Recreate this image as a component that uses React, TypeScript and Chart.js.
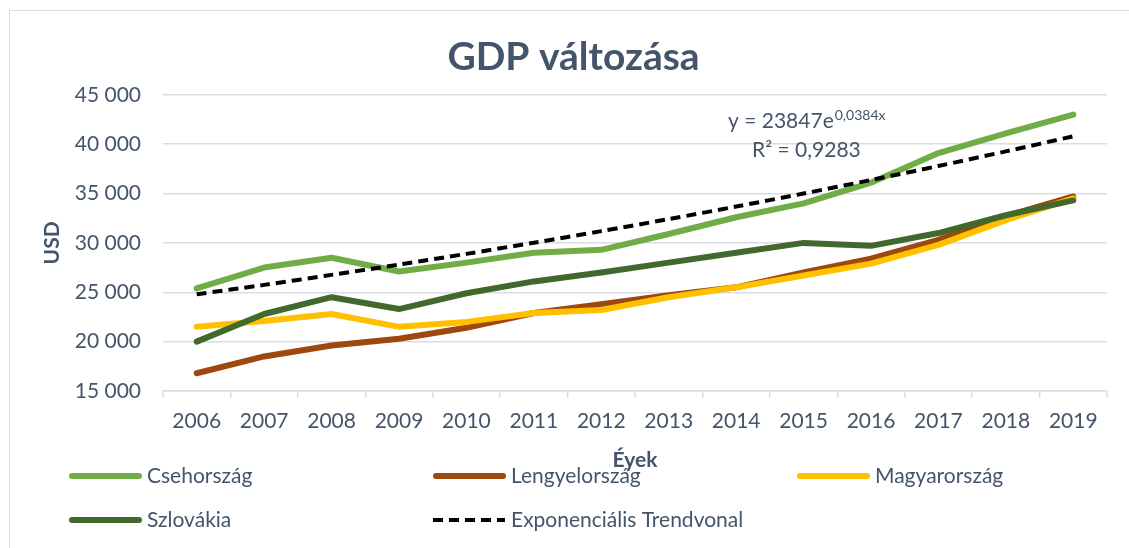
import { useEffect, useRef } from 'react';
import { Chart, registerables } from 'chart.js';

Chart.register(...registerables);

const FONT = 'Lato, "Open Sans", sans-serif';
const TEXT = '#44546A';
const GRID = '#D9DDE3';

const years = ['2006', '2007', '2008', '2009', '2010', '2011', '2012', '2013', '2014', '2015', '2016', '2017', '2018', '2019'];
const csehorszag = [25400, 27500, 28500, 27100, 28000, 29000, 29300, 30900, 32600, 34000, 36100, 39100, 41100, 43000];
const lengyelorszag = [16800, 18500, 19600, 20300, 21400, 22900, 23800, 24700, 25500, 27000, 28400, 30300, 32700, 34700];
const magyarorszag = [21500, 22100, 22800, 21500, 22000, 22900, 23200, 24500, 25500, 26700, 27900, 29800, 32300, 34500];
const szlovakia = [20000, 22800, 24500, 23300, 24900, 26100, 27000, 28000, 29000, 30000, 29700, 31000, 32800, 34300];
const trendvonal = [24800, 25750, 26760, 27800, 28890, 30020, 31190, 32410, 33680, 35000, 36370, 37790, 39270, 40800];

const seriesLabels = ['Csehország', 'Lengyelország', 'Magyarország', 'Szlovákia', 'Exponenciális Trendvonal'];
const seriesColors = ['#70AD47', '#9E480E', '#FFC000', '#43682B', '#000000'];
const equationText = 'y = 23847e';
const equationExponent = '0,0384x';
const rSquaredText = 'R² = 0,9283';
const chartTitle = 'GDP változása';
const xTitle = 'Éyek';
const yTitle = 'USD';

const fmt = (v: number) => String(v).replace(/\B(?=(\d{3})+(?!\d))/g, ' ');

const decor = {
  id: 'decor',
  beforeDraw(chart: any) {
    const ctx = chart.ctx;
    ctx.save();
    ctx.fillStyle = '#ffffff';
    ctx.fillRect(0, 0, chart.width, chart.height);
    ctx.strokeStyle = '#D9DDE3';
    ctx.lineWidth = 1;
    ctx.strokeRect(9.5, 10.5, chart.width + 40, chart.height + 40);
    ctx.restore();
  },
  afterDraw(chart: any) {
    const ctx = chart.ctx;
    ctx.save();
    // trendline equation
    ctx.fillStyle = TEXT;
    ctx.textBaseline = 'middle';
    ctx.textAlign = 'left';
    ctx.font = `21px ${FONT}`;
    const ex = 728;
    ctx.fillText(equationText, ex, 121);
    const w = ctx.measureText(equationText).width;
    ctx.font = `14px ${FONT}`;
    ctx.fillText(equationExponent, ex + w + 1, 115);
    ctx.font = `21px ${FONT}`;
    ctx.fillText(rSquaredText, 752, 150);

    // legend
    const cols = [69, 433, 797];
    const rows = [476, 520];
    const ds = chart.data.datasets;
    ds.forEach((d: any, k: number) => {
      const x = cols[k % 3];
      const y = rows[Math.floor(k / 3)];
      ctx.beginPath();
      ctx.strokeStyle = d.borderColor;
      if (d.borderDash && d.borderDash.length) {
        ctx.lineWidth = 4;
        ctx.lineCap = 'butt';
        ctx.setLineDash([10, 6]);
        ctx.moveTo(x, y);
        ctx.lineTo(x + 72, y);
        ctx.stroke();
      } else {
        ctx.lineWidth = 6;
        ctx.lineCap = 'round';
        ctx.setLineDash([]);
        ctx.moveTo(x + 3, y);
        ctx.lineTo(x + 70, y);
        ctx.stroke();
      }
      ctx.setLineDash([]);
      ctx.fillStyle = TEXT;
      ctx.font = `21px ${FONT}`;
      ctx.textBaseline = 'middle';
      ctx.fillText(d.label, x + 78, y);
    });
    ctx.restore();
  },
};

export default function App() {
  const ref = useRef<HTMLCanvasElement>(null);
  useEffect(() => {
    Chart.defaults.font.family = FONT;
    const mk = (i: number, data: number[], order: number) => ({
      label: seriesLabels[i],
      data,
      borderColor: seriesColors[i],
      backgroundColor: seriesColors[i],
      borderWidth: 6,
      borderCapStyle: 'round' as const,
      borderJoinStyle: 'round' as const,
      pointRadius: 0,
      tension: 0,
      fill: false,
      order,
    });
    const chart = new Chart(ref.current!, {
      type: 'line',
      data: {
        labels: years,
        datasets: [
          mk(0, csehorszag, 4),
          mk(1, lengyelorszag, 3),
          mk(2, magyarorszag, 2),
          mk(3, szlovakia, 1),
          {
            label: seriesLabels[4],
            data: trendvonal,
            borderColor: seriesColors[4],
            backgroundColor: seriesColors[4],
            borderWidth: 4,
            borderDash: [10, 6],
            pointRadius: 0,
            tension: 0.3,
            fill: false,
            order: 0,
          },
        ],
      },
      options: {
        responsive: true,
        maintainAspectRatio: false,
        animation: false,
        layout: { padding: { left: 40, right: 22, top: 0, bottom: 75 } },
        plugins: {
          legend: { display: false },
          tooltip: { enabled: false },
          title: {
            display: true,
            text: chartTitle,
            color: TEXT,
            font: { size: 39, weight: 'bold', family: FONT },
            padding: { top: 34, bottom: 14 },
          },
        },
        scales: {
          x: {
            offset: true,
            grid: { offset: true, drawOnChartArea: false, drawTicks: true, tickLength: 7, color: GRID, lineWidth: 1.5 },
            border: { display: true, color: GRID, width: 1.5 },
            ticks: { color: TEXT, font: { size: 21, family: FONT }, padding: 11, maxRotation: 0, autoSkip: false },
            title: { display: true, text: xTitle, color: TEXT, font: { size: 21, weight: 'bold', family: FONT }, padding: { top: 0, bottom: 0 } },
            afterFit: (scale: any) => { scale.height = 82; },
          },
          y: {
            min: 15000,
            max: 45000,
            ticks: { stepSize: 5000, color: TEXT, font: { size: 21, family: FONT }, padding: 22, callback: (v: any) => fmt(Number(v)) },
            grid: { color: GRID, drawTicks: false, lineWidth: 1.5 },
            border: { display: false },
            title: { display: true, text: yTitle, color: TEXT, font: { size: 21, weight: 'bold', family: FONT }, padding: { top: 0, bottom: 8 } },
            afterFit: (scale: any) => { scale.width = 123; },
          },
        },
      },
      plugins: [decor],
    });
    return () => chart.destroy();
  }, []);
  return (
    <div style={{ position: 'fixed', left: 0, top: 0, width: 1129, height: 548, background: '#fff' }}>
      <canvas ref={ref} />
    </div>
  );
}
